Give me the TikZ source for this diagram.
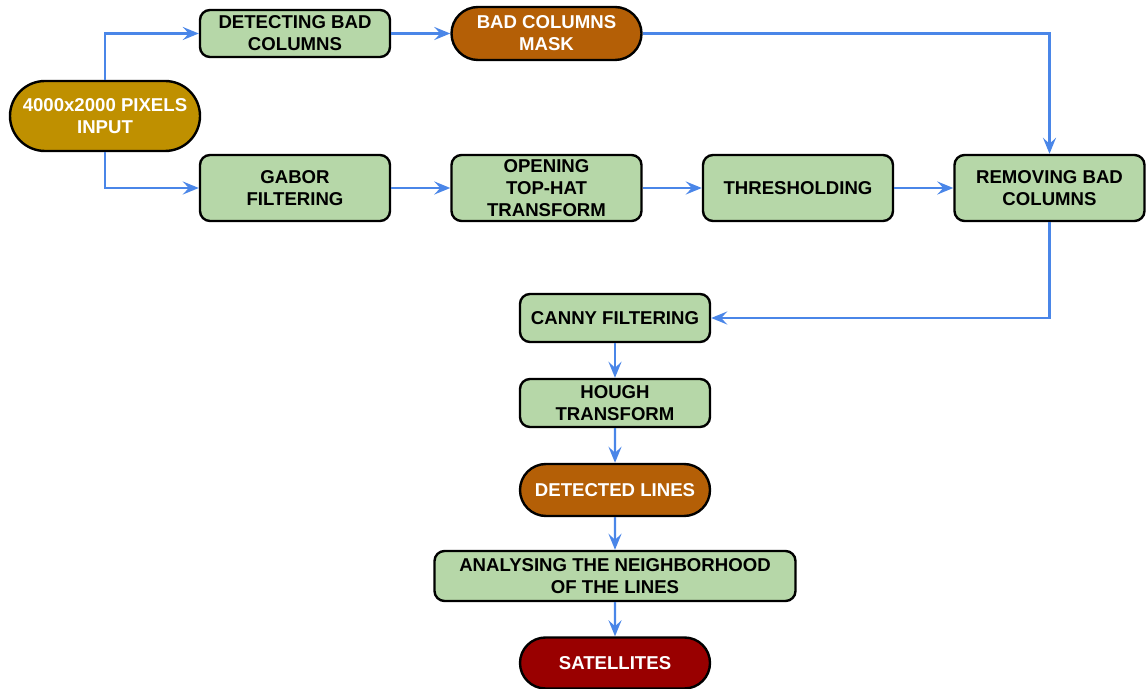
\documentclass[tikz,border=0pt]{standalone}
\usepackage{fontspec}
\setmainfont{Liberation Sans}
\usetikzlibrary{arrows.meta,shapes.misc}
\definecolor{inputgold}{HTML}{BF9000}
\definecolor{maskbrown}{HTML}{B45F06}
\definecolor{outred}{HTML}{990000}
\definecolor{stepgreen}{HTML}{B6D7A8}
\definecolor{flowblue}{HTML}{4A86E8}
\begin{document}
\begin{tikzpicture}[x=0.5pt, y=-0.5pt,
    font=\fontsize{9.3}{11}\selectfont\bfseries,
    stepbox/.style={draw=black, line width=1.2pt, fill=stepgreen, rounded corners=5pt,
        align=center, inner sep=0pt, minimum width=95pt, minimum height=33pt},
    pillbox/.style={draw=black, line width=1.2pt, rounded rectangle, text=white,
        align=center, inner sep=0pt, minimum width=95pt},
    flow/.style={draw=flowblue, line width=1.2pt, -{Stealth[length=8pt, width=6.5pt, inset=3pt]}}]

    \useasboundingbox (0,0) rectangle (1146,689);

    \node[pillbox, fill=inputgold, minimum height=35pt] (input) at (105, 116) {4000x2000 PIXELS\\INPUT};

    \node[stepbox, minimum height=23.5pt] (detect) at (295, 33.5) {DETECTING BAD\\COLUMNS};
    \node[pillbox, fill=maskbrown, minimum height=26.5pt] (mask) at (546.5, 33.5) {BAD COLUMNS\\MASK};

    \node[stepbox] (gabor) at (295, 188) {GABOR\\FILTERING};
    \node[stepbox] (tophat) at (546.5, 188) {OPENING\\TOP-HAT\\TRANSFORM};
    \node[stepbox] (thresh) at (798, 188) {THRESHOLDING};
    \node[stepbox] (remove) at (1049.5, 188) {REMOVING BAD\\COLUMNS};

    \node[stepbox, minimum height=24pt] (canny) at (615, 318) {CANNY FILTERING};
    \node[stepbox, minimum height=24pt] (hough) at (615, 403) {HOUGH\\TRANSFORM};
    \node[pillbox, fill=maskbrown, minimum height=26pt] (lines) at (615, 490) {DETECTED LINES};
    \node[stepbox, minimum width=180.5pt, minimum height=25pt] (neigh) at (615, 576) {ANALYSING THE NEIGHBORHOOD\\OF THE LINES};
    \node[pillbox, fill=outred, minimum height=25.5pt] (sat) at (615, 663) {SATELLITES};

    % connectors
    \draw[flow] (input.north) |- (detect.west);
    \draw[flow] (input.south) |- (gabor.west);
    \draw[flow] (detect) -- (mask);
    \draw[flow] (mask.east) -| (remove.north);
    \draw[flow] (gabor) -- (tophat);
    \draw[flow] (tophat) -- (thresh);
    \draw[flow] (thresh) -- (remove);
    \draw[flow] (remove.south) |- (canny.east);
    \draw[flow] (canny) -- (hough);
    \draw[flow] (hough) -- (lines);
    \draw[flow] (lines) -- (neigh);
    \draw[flow] (neigh) -- (sat);
\end{tikzpicture}
\end{document}
